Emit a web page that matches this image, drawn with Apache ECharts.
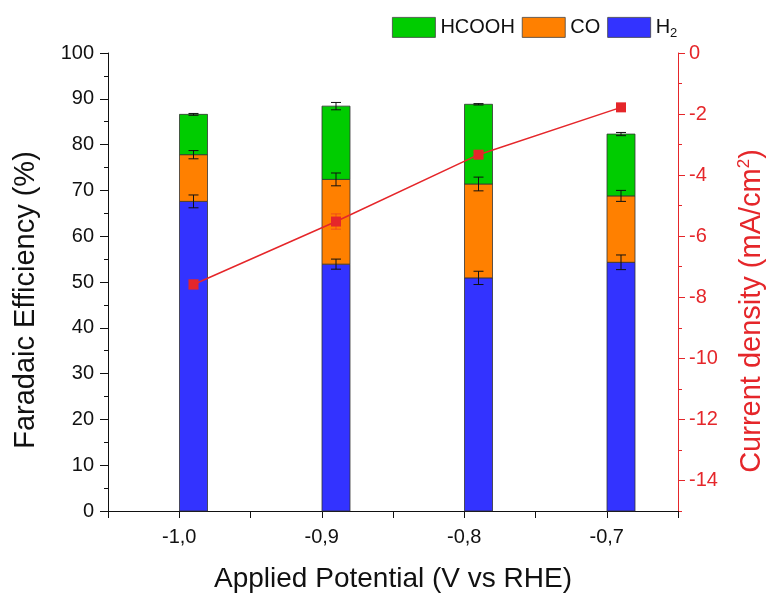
<!DOCTYPE html>
<html>
<head>
<meta charset="utf-8">
<script src="https://cdn.jsdelivr.net/npm/echarts@6/dist/echarts.min.js"></script>
<style>html,body{margin:0;padding:0;background:#fff}#c{width:769px;height:593px}</style>
</head>
<body>
<div id="c"></div>
<script>
const potentials = [-0.99, -0.89, -0.79, -0.69];
const h2 = [67.6, 53.9, 50.9, 54.3];
const co = [10.2, 18.5, 20.5, 14.5];
const hcooh = [8.8, 16.0, 17.4, 13.5];
const errH2 = [1.4, 1.1, 1.45, 1.6];
const errCO = [0.9, 1.4, 1.5, 1.2];
const errHCOOH = [0.2, 0.8, 0.15, 0.35];
const current = [-7.58, -5.52, -3.33, -1.78];
const errJ = [0.15, 0.25, 0.1, 0.1];
const xLabels = [-1.0, -0.9, -0.8, -0.7];
const xTicks = [-1.05, -1.0, -0.95, -0.9, -0.85, -0.8, -0.75, -0.7, -0.65];
const jLabels = [0, -2, -4, -6, -8, -10, -12, -14];

const FONT = 'Arial, "Liberation Sans", sans-serif';
const RED = '#e5262a';
const INK = '#111';

const pairs = arr => potentials.map((x, i) => [x, arr[i]]);
const cum1 = h2;
const cum2 = h2.map((v, i) => v + co[i]);
const cum3 = cum2.map((v, i) => v + hcooh[i]);
const seg = (lo, hi) => potentials.map((x, i) => [x, lo ? lo[i] : 0, hi[i]]);
const errData = [];
potentials.forEach((x, i) => {
  errData.push([x, cum1[i], errH2[i]]);
  errData.push([x, cum2[i], errCO[i]]);
  errData.push([x, cum3[i], errHCOOH[i]]);
});
const jErr = potentials.map((x, i) => [x, current[i], errJ[i]]);

function barRender(params, api) {
  const x = api.value(0), y0 = api.value(1), y1 = api.value(2);
  const p0 = api.coord([x, y0]);
  const p1 = api.coord([x, y1]);
  const w = 28;
  return {
    type: 'rect',
    shape: { x: p0[0] - w / 2, y: p1[1], width: w, height: p0[1] - p1[1] },
    style: Object.assign(api.style(), { stroke: '#333', lineWidth: 0.8 })
  };
}

function errRender(color) {
  return function (params, api) {
    const x = api.value(0), y = api.value(1), e = api.value(2);
    const top = api.coord([x, y + e]);
    const bot = api.coord([x, y - e]);
    const hw = 5;
    const style = { stroke: color, lineWidth: 1 };
    return {
      type: 'group',
      children: [
        { type: 'line', shape: { x1: top[0], y1: top[1], x2: bot[0], y2: bot[1] }, style },
        { type: 'line', shape: { x1: top[0] - hw, y1: top[1], x2: top[0] + hw, y2: top[1] }, style },
        { type: 'line', shape: { x1: bot[0] - hw, y1: bot[1], x2: bot[0] + hw, y2: bot[1] }, style }
      ]
    };
  };
}

function barSeries(name, color, data) {
  return {
    type: 'custom', name, xAxisIndex: 0, yAxisIndex: 0, z: 2,
    renderItem: barRender, data, itemStyle: { color },
    encode: { x: 0, y: [1, 2] }
  };
}

const chart = echarts.init(document.getElementById('c'));
chart.setOption({
  animation: false,
  backgroundColor: '#fff',
  textStyle: { fontFamily: FONT },
  grid: { left: 108, right: 91, top: 53, bottom: 82, containLabel: false, outerBoundsMode: 'none' },
  legend: {
    data: ['HCOOH', 'CO', 'H2'],
    left: 392, top: 17, icon: 'rect', padding: 0,
    itemWidth: 43, itemHeight: 20, itemGap: 7,
    itemStyle: { borderColor: '#444', borderWidth: 0.8 },
    textStyle: {
      fontFamily: FONT, fontSize: 20, color: INK,
      rich: { sub: { fontSize: 13, fontFamily: FONT, color: INK, padding: [12, 0, 0, 0] } }
    },
    formatter: n => n === 'H2' ? 'H{sub|2}' : n
  },
  xAxis: {
    type: 'value', min: -1.05, max: -0.65,
    name: 'Applied Potential (V vs RHE)', nameLocation: 'middle', nameGap: 54,
    nameTextStyle: { fontSize: 28, color: INK, fontFamily: FONT },
    axisLine: { lineStyle: { color: INK, width: 1 } },
    axisTick: { show: true, length: 7, customValues: xTicks, lineStyle: { color: INK } },
    axisLabel: { customValues: xLabels, fontSize: 20, color: INK, margin: 16,
      formatter: v => v.toFixed(1).replace('.', ',') },
    splitLine: { show: false }
  },
  yAxis: [
    {
      type: 'value', min: 0, max: 100, interval: 10, position: 'left',
      name: 'Faradaic Efficiency (%)', nameLocation: 'middle', nameGap: 68, nameRotate: 90,
      nameTextStyle: { fontSize: 29, color: INK, fontFamily: FONT, padding: [0, 36, 0, 0] },
      axisLine: { show: true, lineStyle: { color: INK, width: 1 } },
      axisTick: { show: true, length: 8, lineStyle: { color: INK } },
      minorTick: { show: true, splitNumber: 2, length: 4, lineStyle: { color: INK } },
      axisLabel: { fontSize: 20, color: INK, margin: 14 },
      splitLine: { show: false }
    },
    {
      type: 'value', min: -15, max: 0, interval: 1, position: 'right',
      name: 'Current density (mA/cm{sup|2})', nameLocation: 'middle', nameGap: 58, nameRotate: 90,
      nameTextStyle: { fontSize: 29, color: RED, fontFamily: FONT, padding: [0, 58, 0, 0],
        rich: { sup: { fontSize: 17, color: RED, fontFamily: FONT, padding: [0, 0, 14, 0] } } },
      axisLine: { show: true, lineStyle: { color: RED, width: 1 } },
      axisTick: { show: true, length: 7, customValues: jLabels, lineStyle: { color: RED } },
      axisLabel: { customValues: jLabels, fontSize: 20, color: RED, margin: 11 },
      splitLine: { show: false }
    },
    {
      type: 'value', min: -15, max: 0, interval: 1, position: 'right',
      axisLine: { show: false },
      axisTick: { show: true, length: 4, lineStyle: { color: RED } },
      axisLabel: { show: false },
      splitLine: { show: false }
    }
  ],
  series: [
    barSeries('H2', '#3333ff', seg(null, cum1)),
    barSeries('CO', '#ff8000', seg(cum1, cum2)),
    barSeries('HCOOH', '#00cc00', seg(cum2, cum3)),
    { type: 'custom', xAxisIndex: 0, yAxisIndex: 0, z: 5, renderItem: errRender(INK), data: errData, silent: true,
      encode: { x: 0, y: 1 } },
    { type: 'line', name: 'J', xAxisIndex: 0, yAxisIndex: 1, data: pairs(current), z: 6,
      symbol: 'rect', symbolSize: 10, lineStyle: { color: RED, width: 1.5 }, itemStyle: { color: RED } },
    { type: 'custom', xAxisIndex: 0, yAxisIndex: 1, z: 6, renderItem: errRender('rgba(229,38,42,0.55)'), data: jErr, silent: true,
      encode: { x: 0, y: 1 } }
  ]
});
</script>
</body>
</html>
